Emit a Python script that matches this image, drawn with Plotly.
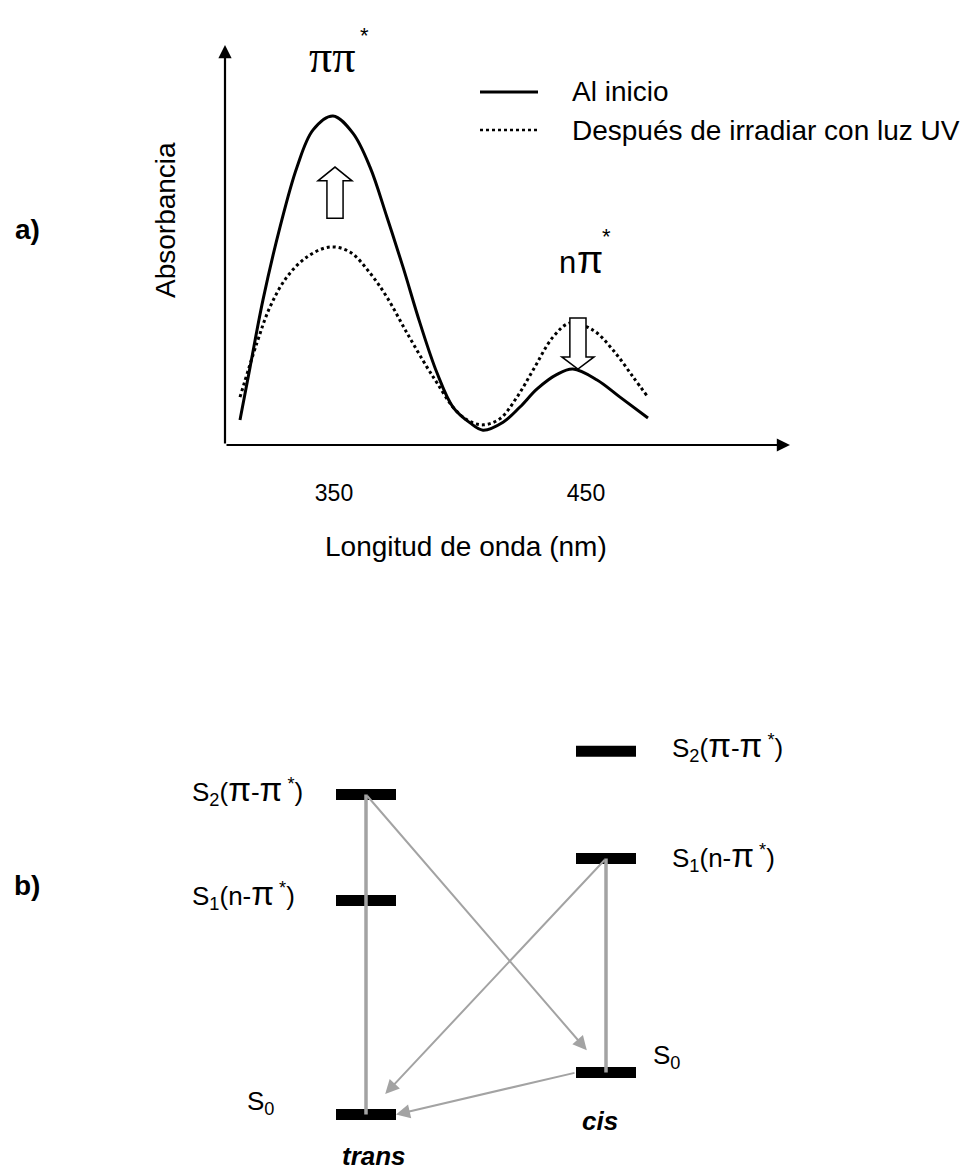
import plotly.graph_objects as go

W, H = 972, 1172          # browser window
OFF = 8                   # default body margin of the html page
FW, FH = W - OFF, H - OFF # figure size so that it fits the window

# ---------------- Panel a) : absorption spectra (arbitrary absorbance units) ----------------
wl_inicio = [312.7, 316.7, 321.8, 328.6, 335.3, 341.7, 349.6, 357.5, 364.3, 371.0, 377.4, 384.1,
             390.9, 397.2, 404.0, 409.1, 417.1, 423.8, 430.6, 438.5, 444.8, 454.4, 463.5, 474.6]
abs_inicio = [0.076, 0.236, 0.439, 0.661, 0.842, 0.955, 0.997, 0.945, 0.842, 0.691, 0.539, 0.370,
              0.218, 0.115, 0.067, 0.045, 0.069, 0.115, 0.170, 0.214, 0.230, 0.197, 0.145, 0.082]

wl_uv = [312.7, 319.4, 324.6, 331.3, 339.3, 348.4, 356.3, 364.3, 371.0, 379.0, 386.9, 390.9,
         397.2, 402.8, 409.1, 415.9, 422.6, 429.0, 436.9, 443.7, 452.8, 460.7, 468.7, 474.6]
abs_uv = [0.145, 0.309, 0.418, 0.509, 0.570, 0.600, 0.585, 0.521, 0.448, 0.339, 0.236, 0.188,
          0.115, 0.076, 0.061, 0.080, 0.145, 0.227, 0.327, 0.370, 0.348, 0.288, 0.206, 0.145]

series_names = ["Al inicio", "Después de irradiar con luz UV"]
xtick_vals = [350, 450]
xtick_text = ["350", "450"]

# ---------------- Panel b) : energy levels ----------------
isomers = ["trans", "cis"]
isomer_pos = [0, 1]
level_names = ["S0", "S1", "S2"]
energy_trans = [0.0, 2.675, 4.0]
energy_cis = [0.525, 3.2, 4.54]

# ---------------- helpers (window pixels -> paper) ----------------
def px(x):
    return (x - OFF) / FW

def py(y):
    return 1 - (y - OFF) / FH

X0, X1 = 306.75, 530.95
Y1 = 1.2121
FONT = "Liberation Sans, Arial, sans-serif"
SERIF = "Liberation Serif, Times New Roman, serif"
GRAY = "#a3a3a3"

fig = go.Figure()

fig.add_trace(go.Scatter(x=wl_inicio, y=abs_inicio, mode="lines", name=series_names[0],
                         line=dict(color="black", width=3, shape="spline", smoothing=1.0),
                         xaxis="x", yaxis="y"))
fig.add_trace(go.Scatter(x=wl_uv, y=abs_uv, mode="lines", name=series_names[1],
                         line=dict(color="black", width=3, dash="dot", shape="spline", smoothing=1.0),
                         xaxis="x", yaxis="y"))

annotations = []
shapes = []

def txt(x, y, text, size, family=FONT, xanchor="center", yanchor="middle", **kw):
    return dict(x=px(x), y=py(y), xref="paper", yref="paper", text=text, showarrow=False,
                xanchor=xanchor, yanchor=yanchor, font=dict(family=family, size=size, color="black"), **kw)

# axis arrows
annotations.append(dict(x=X0, y=Y1, ax=X0, ay=0, xref="x", yref="y", axref="x", ayref="y",
                        text="", showarrow=True, arrowhead=2, arrowsize=1.2, arrowwidth=2.2,
                        arrowcolor="black"))
annotations.append(dict(x=X1, y=0, ax=X0, ay=0, xref="x", yref="y", axref="x", ayref="y",
                        text="", showarrow=True, arrowhead=2, arrowsize=1.2, arrowwidth=2.2,
                        arrowcolor="black"))

# hollow arrows, derived from the peaks of the data
i1 = abs_inicio.index(max(abs_inicio))
x_up = wl_inicio[i1] + 0.8
lo, hi = max(abs_uv[:10]), abs_inicio[i1]
gap = hi - lo
yb, ybase, ytip = lo + 0.22 * gap, lo + 0.505 * gap, lo + 0.61 * gap
hw, sw = 6.75, 3.2
shapes.append(dict(type="path", xref="x", yref="y", layer="above",
                   path=(f"M{x_up - sw},{yb} L{x_up - sw},{ybase} L{x_up - hw},{ybase} L{x_up},{ytip} "
                         f"L{x_up + hw},{ybase} L{x_up + sw},{ybase} L{x_up + sw},{yb} Z"),
                   fillcolor="white", line=dict(color="black", width=1.5)))

i2 = 14 + abs_inicio[14:].index(max(abs_inicio[14:]))
x_dn = wl_inicio[i2] + 2.0
ytip2 = abs_inicio[i2]
ytop2 = max(abs_uv[14:]) + 0.015
ybase2 = ytip2 + 0.037
hw2 = 6.4
shapes.append(dict(type="path", xref="x", yref="y", layer="above",
                   path=(f"M{x_dn - sw},{ytop2} L{x_dn - sw},{ybase2} L{x_dn - hw2},{ybase2} L{x_dn},{ytip2} "
                         f"L{x_dn + hw2},{ybase2} L{x_dn + sw},{ybase2} L{x_dn + sw},{ytop2} Z"),
                   fillcolor="white", line=dict(color="black", width=1.5)))

# band labels
annotations += [
    txt(332, 57, "ππ", 46, SERIF),
    txt(364, 35, "*", 22),
    txt(567, 262, "n", 31),
    txt(590, 260, "π", 38),
    txt(606, 237, "*", 22),
]

# legend (manual)
shapes.append(dict(type="line", xref="paper", yref="paper", x0=px(480), x1=px(538), y0=py(92), y1=py(92),
                   line=dict(color="black", width=3)))
shapes.append(dict(type="line", xref="paper", yref="paper", x0=px(480), x1=px(538), y0=py(130), y1=py(130),
                   line=dict(color="black", width=2.5, dash="dot")))
annotations += [
    txt(570, 92, series_names[0], 28, xanchor="left"),
    txt(570, 131, series_names[1], 28, xanchor="left"),
]

# axis titles & panel letters
annotations += [
    txt(165, 220, "Absorbancia", 28, textangle=-90),
    txt(466, 546, "Longitud de onda (nm)", 28),
    txt(27, 229, "<b>a)</b>", 28),
    txt(27, 885, "<b>b)</b>", 28),
]

# ---------------- Panel b) drawing ----------------
half = 0.125
for pos, energies in zip(isomer_pos, [energy_trans, energy_cis]):
    for e in energies:
        fig.add_trace(go.Scatter(x=[pos - half, pos + half], y=[e, e], mode="lines",
                                 line=dict(color="black", width=11), xaxis="x2", yaxis="y2",
                                 showlegend=False, hoverinfo="skip"))

# vertical (gray) transitions
fig.add_trace(go.Scatter(x=[isomer_pos[0], isomer_pos[0]], y=[energy_trans[2], energy_trans[0]],
                         mode="lines", line=dict(color=GRAY, width=3.5), xaxis="x2", yaxis="y2",
                         showlegend=False, hoverinfo="skip"))
fig.add_trace(go.Scatter(x=[isomer_pos[1], isomer_pos[1]], y=[energy_cis[1], energy_cis[0]],
                         mode="lines", line=dict(color=GRAY, width=3.5), xaxis="x2", yaxis="y2",
                         showlegend=False, hoverinfo="skip"))

def arrow(x0, y0, x1, y1, frac=1.0):
    xt = x0 + frac * (x1 - x0)
    yt = y0 + frac * (y1 - y0)
    return dict(x=xt, y=yt, ax=x0, ay=y0, xref="x2", yref="y2", axref="x2", ayref="y2",
                text="", showarrow=True, arrowhead=2, arrowsize=1.4, arrowwidth=2,
                arrowcolor=GRAY)

annotations.append(arrow(isomer_pos[0], energy_trans[2], isomer_pos[1], energy_cis[0], 0.92))
annotations.append(arrow(isomer_pos[1], energy_cis[1], isomer_pos[0], energy_trans[0], 0.92))
annotations.append(arrow(isomer_pos[1] - half, energy_cis[0], isomer_pos[0] + half, energy_trans[0], 1.0))

lab_font = dict(family=FONT, size=26, color="black")
PI = '<span style="font-size:33px">π</span>'
S2_lab = "S<sub>2</sub>(" + PI + "-" + PI + "<sup> *</sup>)"
S1_lab = "S<sub>1</sub>(n-" + PI + "<sup> *</sup>)"
S0_lab = "S<sub>0</sub>"

def lab(x, y, text, xanchor="left", font=lab_font):
    return dict(x=x, y=y, xref="x2", yref="y2", xanchor=xanchor, yanchor="middle",
                showarrow=False, text=text, font=font)

xl_trans = -0.733
xl_cis = 1.267
annotations += [
    lab(xl_trans, energy_trans[2] + 0.056, S2_lab),
    lab(xl_trans, energy_trans[1] + 0.07, S1_lab),
    lab(xl_cis, energy_cis[2] + 0.056, S2_lab),
    lab(xl_cis, energy_cis[1] + 0.02, S1_lab),
    lab(-0.44, energy_trans[0] + 0.156, S0_lab, xanchor="center"),
    lab(1.25, energy_cis[0] + 0.205, S0_lab, xanchor="center"),
    lab(isomer_pos[0] + 0.035, energy_trans[0] - 0.52, "<b><i>" + isomers[0] + "</i></b>",
        xanchor="center", font=dict(family=FONT, size=26, color="black")),
    lab(isomer_pos[1] - 0.025, energy_cis[0] - 0.6, "<b><i>" + isomers[1] + "</i></b>",
        xanchor="center", font=dict(family=FONT, size=26, color="black")),
]

fig.update_layout(
    width=FW, height=FH, margin=dict(l=0, r=0, t=0, b=0),
    paper_bgcolor="white", plot_bgcolor="white", showlegend=False,
    xaxis=dict(domain=[px(225), px(790)], range=[X0, X1], showgrid=False, zeroline=False,
               showline=False, tickvals=xtick_vals, ticktext=xtick_text, ticks="",
               ticklabelstandoff=32, tickfont=dict(family=FONT, size=23, color="black"),
               anchor="y", fixedrange=True),
    yaxis=dict(domain=[py(445), py(45)], range=[0, Y1], showgrid=False, zeroline=False,
               showline=False, showticklabels=False, ticks="", anchor="x", fixedrange=True),
    xaxis2=dict(domain=[px(126), px(846)], range=[-1, 2], visible=False, anchor="y2"),
    yaxis2=dict(domain=[py(1170.5), py(714.5)], range=[-0.7, 5], visible=False, anchor="x2"),
    annotations=annotations, shapes=shapes,
)

fig.write_html("out.html")
